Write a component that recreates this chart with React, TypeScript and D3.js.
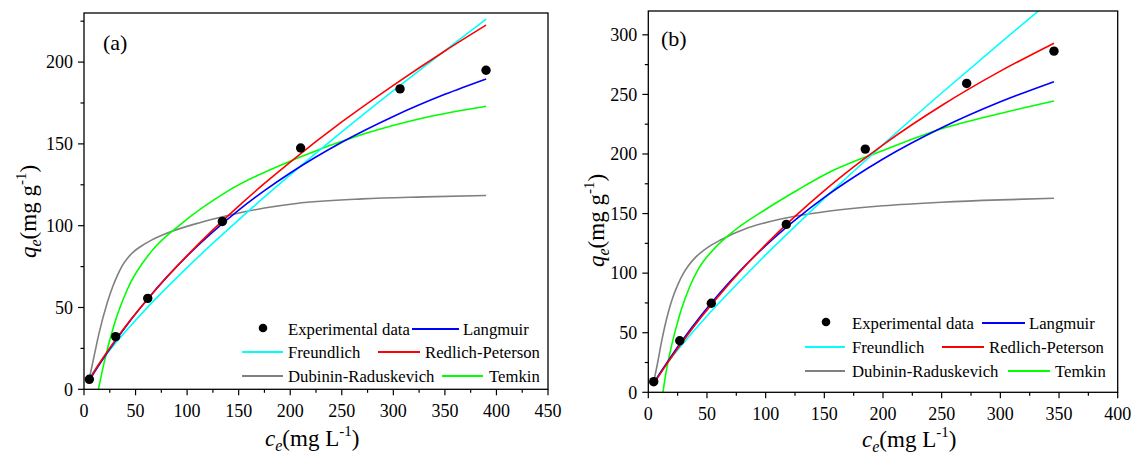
import React from "react";
import * as d3 from "d3";

const FONT = '"Liberation Serif", "Times New Roman", "DejaVu Serif", serif';

// ---------- Panel (a) data ----------
const expA_ce = [5.2, 30.7, 61.8, 134.2, 210.1, 306.5, 389.9];
const expA_qe = [6.1, 32.2, 55.6, 102.6, 147.5, 183.6, 195.0];

const fitA_ce = [5, 10, 20, 30, 45, 62, 80, 100, 125, 150, 175, 200, 250, 300, 350, 390];
const langmuirA = [5.2, 10.3, 20.0, 29.2, 42.1, 55.4, 68.4, 81.5, 96.2, 109.5, 121.4, 132.2, 151.0, 166.8, 180.3, 189.7];
const freundlichA = [6.4, 11.3, 20.0, 27.8, 38.7, 50.4, 62.0, 74.4, 89.3, 103.6, 117.6, 131.1, 157.3, 182.5, 207.0, 226.2];
const redlichA = [5.7, 11.0, 20.7, 29.7, 42.3, 55.4, 68.3, 81.7, 97.4, 112.0, 125.8, 138.9, 163.4, 185.8, 206.8, 222.6];

const drA_ce = [5, 9.7, 14.5, 22.6, 28, 32.3, 37, 42, 48, 55, 65, 80.8, 113, 145, 175, 206, 270, 330, 390];
const drA = [6.1, 20, 34, 53, 63, 69.5, 75.5, 80, 84, 87.3, 91, 95.5, 102, 107, 110.8, 113.6, 116.4, 117.6, 118.5];

const temkinA_ce = [14, 19.4, 29, 42, 65, 94, 139, 206, 271, 330, 390];
const temkinA = [0, 16, 39, 61, 84, 101, 121, 141, 156, 166, 173];

// ---------- Panel (b) data ----------
const expB_ce = [4.6, 26.8, 53.7, 117.6, 184.9, 271.3, 345.7];
const expB_qe = [8.9, 43.3, 74.7, 140.9, 204.1, 259.2, 286.3];

const fitB_ce = [5, 10, 20, 30, 45, 60, 80, 100, 125, 150, 175, 200, 250, 300, 345.7];
const langmuirB = [8.1, 16.0, 31.0, 45.0, 64.5, 82.3, 103.8, 123.1, 144.5, 163.6, 180.5, 195.8, 222.0, 243.8, 260.7];
const freundlichB = [9.0, 16.3, 29.4, 41.4, 58.5, 74.7, 95.3, 115.3, 139.3, 162.7, 185.5, 207.9, 251.2, 293.3, 331.0];
const redlichB = [7.8, 15.3, 29.8, 43.5, 62.9, 80.9, 103.3, 123.9, 147.6, 169.3, 189.2, 207.7, 240.7, 269.5, 293.0];

const drB_ce = [4.6, 8, 11, 14, 17, 21, 25, 30, 34, 40, 45, 52, 62, 85, 113, 150, 200, 250, 300, 345.7];
const drB = [9, 25, 41, 55, 67, 80, 90, 100, 106, 113, 117.5, 122.5, 128, 138, 145.5, 151.5, 156.5, 159.5, 161.5, 162.8];

const temkinB_ce = [12.5, 15, 18, 21, 24.5, 28, 35, 42.4, 56.6, 73.6, 99.2, 127.6, 153, 200, 246, 300, 345.7];
const temkinB = [0, 16, 31, 44, 57, 69, 88, 103, 121, 136, 153, 170, 184, 203, 220, 234, 244.4];

// ---------- axes ----------
const xTicksA = [0, 50, 100, 150, 200, 250, 300, 350, 400, 450];
const yTicksA = [0, 50, 100, 150, 200];
const xTicksB = [0, 50, 100, 150, 200, 250, 300, 350, 400];
const yTicksB = [0, 50, 100, 150, 200, 250, 300];

const COLORS = {
  exp: "#000000",
  langmuir: "#0000FF",
  freundlich: "#00FFFF",
  redlich: "#FF0000",
  dr: "#808080",
  temkin: "#00FF00",
};

type Series = { key: string; color: string; x: number[]; y: number[] };
type LegendItem = { kind: "dot" | "line"; color: string; x1: number; x2: number; y: number; text: string; tx: number };

function zip(xs: number[], ys: number[]): [number, number][] {
  return xs.map((v, i) => [v, ys[i]]);
}

function Panel(props: {
  id: string;
  left: number; right: number; top: number; bottom: number;
  xMax: number; yMax: number;
  xTicks: number[]; yTicks: number[];
  label: string; labelX: number; labelY: number;
  expX: number[]; expY: number[];
  series: Series[];
  legend: LegendItem[];
  xTitleX: number; xTitleY: number;
  yTitleX: number; yTitleY: number;
}) {
  const { left, right, top, bottom, xMax, yMax } = props;
  const x = d3.scaleLinear().domain([0, xMax]).range([left, right]);
  const y = d3.scaleLinear().domain([0, yMax]).range([bottom, top]);
  const line = d3
    .line<[number, number]>()
    .x((d) => x(d[0]))
    .y((d) => y(d[1]))
    .curve(d3.curveMonotoneX);
  const xMinor = d3.range(25, xMax, 50);
  const yMinor = d3.range(25, yMax, 50);
  const clip = `clip-${props.id}`;
  return (
    <g>
      <defs>
        <clipPath id={clip}>
          <rect x={left} y={top} width={right - left} height={bottom - top} />
        </clipPath>
      </defs>
      <g clipPath={`url(#${clip})`}>
        {props.series.map((s) => (
          <path key={s.key} d={line(zip(s.x, s.y)) || ""} fill="none" stroke={s.color} strokeWidth={1.6} />
        ))}
      </g>
      {props.expX.map((v, i) => (
        <circle key={i} cx={x(v)} cy={y(props.expY[i])} r={4.7} fill={COLORS.exp} />
      ))}
      <rect x={left} y={top} width={right - left} height={bottom - top} fill="none" stroke="#000" strokeWidth={1.3} />
      {props.xTicks.map((t) => (
        <g key={"xt" + t}>
          <line x1={x(t)} x2={x(t)} y1={bottom} y2={bottom + 6} stroke="#000" strokeWidth={1.2} />
          <text x={x(t)} y={bottom + 28} textAnchor="middle" style={{ fontFamily: FONT, fontSize: 18 }} fill="#000">
            {t}
          </text>
        </g>
      ))}
      {xMinor.map((t) => (
        <line key={"xm" + t} x1={x(t)} x2={x(t)} y1={bottom} y2={bottom + 3.5} stroke="#000" strokeWidth={1.2} />
      ))}
      {props.yTicks.map((t) => (
        <g key={"yt" + t}>
          <line x1={left - 6} x2={left} y1={y(t)} y2={y(t)} stroke="#000" strokeWidth={1.2} />
          <text x={left - 11} y={y(t)} dy="0.35em" textAnchor="end" style={{ fontFamily: FONT, fontSize: 18 }} fill="#000">
            {t}
          </text>
        </g>
      ))}
      {yMinor.map((t) => (
        <line key={"ym" + t} x1={left - 3.5} x2={left} y1={y(t)} y2={y(t)} stroke="#000" strokeWidth={1.2} />
      ))}
      <text x={props.labelX} y={props.labelY} style={{ fontFamily: FONT, fontSize: 22 }} fill="#000">
        {props.label}
      </text>
      {props.legend.map((it, i) => (
        <g key={"lg" + i}>
          {it.kind === "dot" ? (
            <circle cx={(it.x1 + it.x2) / 2} cy={it.y - 1} r={4.3} fill={it.color} />
          ) : (
            <line x1={it.x1} x2={it.x2} y1={it.y} y2={it.y} stroke={it.color} strokeWidth={1.8} />
          )}
          <text x={it.tx} y={it.y + 5.5} style={{ fontFamily: FONT, fontSize: 16.7 }} fill="#000">
            {it.text}
          </text>
        </g>
      ))}
      <text x={props.xTitleX} y={props.xTitleY} style={{ fontFamily: FONT, fontSize: 23 }} fill="#000">
        <tspan fontStyle="italic">c</tspan>
        <tspan fontStyle="italic" fontSize={16} dy={5}>e</tspan>
        <tspan dy={-5}>(mg L</tspan>
        <tspan fontSize={15} dy={-10}>-1</tspan>
        <tspan dy={10}>)</tspan>
      </text>
      <text
        transform={`translate(${props.yTitleX},${props.yTitleY}) rotate(-90)`}
        style={{ fontFamily: FONT, fontSize: 23 }}
        fill="#000"
      >
        <tspan fontStyle="italic">q</tspan>
        <tspan fontStyle="italic" fontSize={16} dy={5}>e</tspan>
        <tspan dy={-5}>(mg g</tspan>
        <tspan fontSize={15} dy={-10}>-1</tspan>
        <tspan dy={10}>)</tspan>
      </text>
    </g>
  );
}

export default function App() {
  const seriesA: Series[] = [
    { key: "dr", color: COLORS.dr, x: drA_ce, y: drA },
    { key: "temkin", color: COLORS.temkin, x: temkinA_ce, y: temkinA },
    { key: "freundlich", color: COLORS.freundlich, x: fitA_ce, y: freundlichA },
    { key: "langmuir", color: COLORS.langmuir, x: fitA_ce, y: langmuirA },
    { key: "redlich", color: COLORS.redlich, x: fitA_ce, y: redlichA },
  ];
  const seriesB: Series[] = [
    { key: "dr", color: COLORS.dr, x: drB_ce, y: drB },
    { key: "temkin", color: COLORS.temkin, x: temkinB_ce, y: temkinB },
    { key: "freundlich", color: COLORS.freundlich, x: fitB_ce, y: freundlichB },
    { key: "langmuir", color: COLORS.langmuir, x: fitB_ce, y: langmuirB },
    { key: "redlich", color: COLORS.redlich, x: fitB_ce, y: redlichB },
  ];
  const legendA: LegendItem[] = [
    { kind: "dot", color: COLORS.exp, x1: 258, x2: 268, y: 329, text: "Experimental data", tx: 288 },
    { kind: "line", color: COLORS.langmuir, x1: 412, x2: 459, y: 329, text: "Langmuir", tx: 463 },
    { kind: "line", color: COLORS.freundlich, x1: 242, x2: 283, y: 352, text: "Freundlich", tx: 288 },
    { kind: "line", color: COLORS.redlich, x1: 378, x2: 420, y: 352, text: "Redlich-Peterson", tx: 425 },
    { kind: "line", color: COLORS.dr, x1: 242, x2: 283, y: 376, text: "Dubinin-Raduskevich", tx: 288 },
    { kind: "line", color: COLORS.temkin, x1: 442, x2: 483, y: 376, text: "Temkin", tx: 489 },
  ];
  const legendB: LegendItem[] = [
    { kind: "dot", color: COLORS.exp, x1: 821, x2: 831, y: 323, text: "Experimental data", tx: 852 },
    { kind: "line", color: COLORS.langmuir, x1: 982, x2: 1025, y: 323, text: "Langmuir", tx: 1029 },
    { kind: "line", color: COLORS.freundlich, x1: 805, x2: 845, y: 347, text: "Freundlich", tx: 852 },
    { kind: "line", color: COLORS.redlich, x1: 942, x2: 984, y: 347, text: "Redlich-Peterson", tx: 989 },
    { kind: "line", color: COLORS.dr, x1: 805, x2: 845, y: 371, text: "Dubinin-Raduskevich", tx: 852 },
    { kind: "line", color: COLORS.temkin, x1: 1008, x2: 1050, y: 371, text: "Temkin", tx: 1055 },
  ];
  return (
    <svg
      width={1137}
      height={455}
      style={{ position: "absolute", left: 0, top: 0, background: "#fff", fontFamily: FONT }}
    >
      <rect width={1137} height={455} fill="#fff" />
      <Panel
        id="a"
        left={84} right={548} top={13} bottom={389.3}
        xMax={450} yMax={230}
        xTicks={xTicksA} yTicks={yTicksA}
        label="(a)" labelX={103} labelY={50}
        expX={expA_ce} expY={expA_qe}
        series={seriesA}
        legend={legendA}
        xTitleX={265} xTitleY={446}
        yTitleX={36} yTitleY={258}
      />
      <Panel
        id="b"
        left={648.3} right={1117.7} top={11} bottom={392.3}
        xMax={400} yMax={320}
        xTicks={xTicksB} yTicks={yTicksB}
        label="(b)" labelX={661} labelY={46}
        expX={expB_ce} expY={expB_qe}
        series={seriesB}
        legend={legendB}
        xTitleX={862} xTitleY={447}
        yTitleX={604} yTitleY={267}
      />
    </svg>
  );
}
